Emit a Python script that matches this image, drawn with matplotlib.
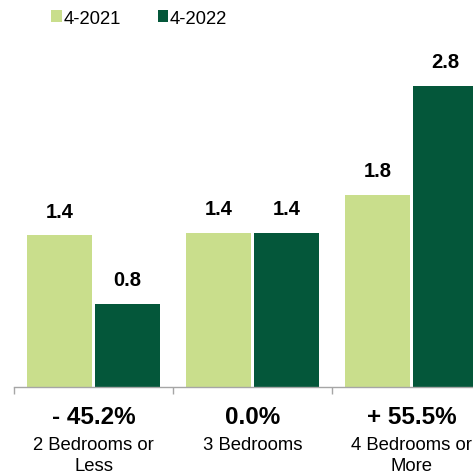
import numpy as np
import matplotlib

matplotlib.use("Agg")
import matplotlib.pyplot as plt
from matplotlib.patches import Patch

plt.rcParams["font.family"] = ["Liberation Sans", "DejaVu Sans"]

categories = ["2 Bedrooms or\nLess", "3 Bedrooms", "4 Bedrooms or\nMore"]
series_names = ["4-2021", "4-2022"]
values_2021 = [1.41, 1.43, 1.79]
values_2022 = [0.77, 1.43, 2.80]
labels_2021 = ["1.4", "1.4", "1.8"]
labels_2022 = ["0.8", "1.4", "2.8"]
changes = ["- 45.2%", "0.0%", "+ 55.5%"]

light = "#c9de8c"
dark = "#04573a"
axis_grey = "#a6a6a6"

W, H = 473, 477
fig = plt.figure(figsize=(W / 100, H / 100), dpi=100)
# axes runs past the right edge, like the cropped original
ax = fig.add_axes([14 / W, 89 / H, 477 / W, 348 / H])

x = np.arange(len(categories))
bw = 0.41
b1 = ax.bar(x + 0.286, values_2021, bw, color=light, edgecolor="none")
b2 = ax.bar(x + 0.714, values_2022, bw, color=dark, edgecolor="none")

for bars, labs in [(b1, labels_2021), (b2, labels_2022)]:
    for rect, lab in zip(bars, labs):
        ax.annotate(lab, (rect.get_x() + rect.get_width() / 2, rect.get_height()),
                    xytext=(0, 17.5), textcoords="offset points",
                    ha="center", va="center", fontsize=14.5, fontweight="bold")

ax.set_xlim(0, 3)
ax.set_ylim(0, 348 / 107.5)

for s in ["top", "right", "left"]:
    ax.spines[s].set_visible(False)
ax.spines["bottom"].set_color(axis_grey)
ax.spines["bottom"].set_linewidth(1)
ax.set_yticks([])
ax.set_xticks([0, 1, 2, 3])
ax.set_xticklabels([])
ax.tick_params(axis="x", length=5, color=axis_grey, width=1)

for i, (chg, cat) in enumerate(zip(changes, categories)):
    ax.annotate(chg, (i + 0.5, 0), xytext=(0, -21), textcoords="offset points",
                ha="center", va="center", fontsize=17.5, fontweight="bold")
    ax.annotate(cat, (i + 0.5, 0), xytext=(0, -35.5), textcoords="offset points",
                ha="center", va="top", fontsize=13.3, linespacing=1.3)

handles = [Patch(facecolor=light, edgecolor="none"), Patch(facecolor=dark, edgecolor="none")]
fig.legend(handles, series_names, loc="center left", bbox_to_anchor=(44 / W, 1 - 19 / H),
           ncol=2, frameon=False, fontsize=13.3, handlelength=0.55, handleheight=0.55,
           handletextpad=0.1, columnspacing=2.0, borderaxespad=0)

fig.savefig("out.png", dpi=100)
